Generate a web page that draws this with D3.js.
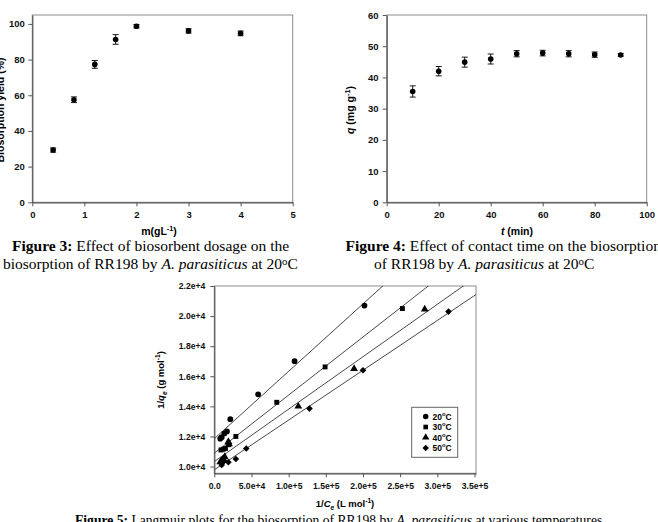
<!DOCTYPE html>
<html>
<head>
<meta charset="utf-8">
<script src="https://cdn.jsdelivr.net/npm/d3@7"></script>
<style>
  body { margin: 0; background: #fff; }
  svg { display: block; font-family: "Liberation Sans", Arial, sans-serif; }
  .cap { font-family: "Liberation Serif", "Times New Roman", serif; font-size: 15.5px; fill: #000; }
</style>
</head>
<body>
<svg id="chart" width="658" height="522"></svg>
<script>
// Figure 3: biosorbent dosage
const dosage = [0.4, 0.8, 1.2, 1.6, 2, 3, 4];
const yieldPct = [29.3, 57.5, 77.3, 91.3, 98.7, 96.1, 94.7];
const yieldErr = [1.2, 1.6, 2.2, 2.7, 1.0, 1.2, 1.3];
const dosageTicks = [0, 1, 2, 3, 4, 5];
const yieldTicks = [0, 20, 40, 60, 80, 100];

// Figure 4: contact time
const contactTime = [10, 20, 30, 40, 50, 60, 70, 80, 90];
const qValues = [35.5, 42.0, 44.9, 45.9, 47.6, 47.8, 47.6, 47.3, 47.2];
const qErr = [1.8, 1.5, 1.6, 1.6, 1.0, 0.9, 1.0, 0.85, 0.45];
const timeTicks = [0, 20, 40, 60, 80, 100];
const qTicks = [0, 10, 20, 30, 40, 50, 60];

// Figure 5: Langmuir plots
const tempLabels = ["20", "30", "40", "50"];
const invCe20 = [8000, 10000, 13500, 17000, 21500, 59000, 108000, 202000];
const invQe20 = [11850, 11950, 12200, 12330, 13150, 14800, 17000, 20700];
const invCe30 = [9000, 12000, 15000, 19500, 29000, 84000, 149000, 253000];
const invQe30 = [11100, 11150, 11200, 11450, 12000, 14270, 16620, 20500];
const invCe40 = [8000, 11000, 14000, 18900, 19800, 113000, 188000, 283000];
const invQe40 = [10300, 10450, 10650, 11650, 11500, 14000, 16500, 20450];
const invCe50 = [10000, 12000, 13500, 18900, 29000, 43000, 128000, 200000, 315000];
const invQe50 = [10100, 10550, 10380, 10290, 10500, 11200, 13850, 16400, 20300];
const fitIntercept = [11850, 10890, 10330, 9780];
const fitSlope = [0.0448, 0.0386, 0.03485, 0.0331];
const invCeTicks = [0, 50000, 100000, 150000, 200000, 250000, 300000, 350000];
const invQeTicks = [10000, 12000, 14000, 16000, 18000, 20000, 22000];

const svg = d3.select("#chart");
svg.append("rect").attr("width", 658).attr("height", 522).attr("fill", "#fff");

function frame(x, y) {
  const [x0, x1] = x.range(), [y0, y1] = y.range();
  svg.append("rect")
    .attr("x", x0).attr("y", y1)
    .attr("width", x1 - x0).attr("height", y0 - y1)
    .attr("fill", "none").attr("stroke", "#8c8c8c").attr("stroke-width", 1);
}

function axes(x, y, xTicks, yTicks, fmtX, fmtY, fs, padX, padY) {
  const gx = svg.append("g")
    .attr("transform", `translate(0,${y.range()[0]})`)
    .call(d3.axisBottom(x).tickValues(xTicks).tickFormat(fmtX)
      .tickSize(4).tickSizeOuter(0).tickPadding(padX));
  const gy = svg.append("g")
    .attr("transform", `translate(${x.range()[0]},0)`)
    .call(d3.axisLeft(y).tickValues(yTicks).tickFormat(fmtY)
      .tickSize(4).tickSizeOuter(0).tickPadding(padY));
  [gx, gy].forEach(g => {
    g.select(".domain").attr("stroke", "#555").attr("stroke-width", 1.2);
    g.selectAll(".tick line").attr("stroke", "#555");
    g.selectAll("text").attr("fill", "#111").style("font-size", fs + "px")
      .style("font-weight", "bold").style("font-family", "'Liberation Sans', Arial, sans-serif");
  });
}

function errorPoints(xs, ys, es, x, y) {
  const g = svg.append("g");
  xs.forEach((d, i) => {
    const cx = x(d), top = y(ys[i] + es[i]), bot = y(ys[i] - es[i]);
    g.append("line").attr("x1", cx).attr("x2", cx).attr("y1", top).attr("y2", bot)
      .attr("stroke", "#000").attr("stroke-width", 0.9);
    [top, bot].forEach(yy => g.append("line")
      .attr("x1", cx - 3).attr("x2", cx + 3).attr("y1", yy).attr("y2", yy)
      .attr("stroke", "#000").attr("stroke-width", 0.9));
    g.append("circle").attr("cx", cx).attr("cy", y(ys[i])).attr("r", 2.8).attr("fill", "#000");
  });
}

function supText(sel, parts) {
  // parts: [text, style] style: "sup" | "i" | "b" | "isub" | null
  let shift = 0;
  parts.forEach(([t, s]) => {
    const ts = sel.append("tspan").text(t);
    let target = 0;
    if (s === "sup") { target = -4; ts.style("font-size", "0.7em"); }
    if (s === "i") ts.style("font-style", "italic");
    if (s === "b") ts.style("font-weight", "bold");
    if (s === "isub") { target = 2.5; ts.style("font-size", "0.7em").style("font-style", "italic"); }
    if (target !== shift) { ts.attr("dy", target - shift); shift = target; }
  });
}

// ---------- Figure 3 ----------
const x3 = d3.scaleLinear().domain([0, 5]).range([32.3, 292.7]);
const y3 = d3.scaleLinear().domain([0, 105]).range([202.3, 15]);
frame(x3, y3);
axes(x3, y3, dosageTicks, yieldTicks, d3.format("d"), d3.format("d"), 9.5, 5.2, 3.5);
errorPoints(dosage, yieldPct, yieldErr, x3, y3);

supText(svg.append("text").attr("x", 159).attr("y", 235).attr("text-anchor", "middle")
  .style("font-size", "10.5px").style("font-weight", "bold"),
  [["m(gL", null], ["-1", "sup"], [")", null]]);
svg.append("text").attr("transform", "translate(4,110) rotate(-90)").attr("text-anchor", "middle")
  .style("font-size", "10.5px").style("font-weight", "bold").text("Biosorption yield (%)");

// ---------- Figure 4 ----------
const x4 = d3.scaleLinear().domain([0, 100]).range([386.7, 646.7]);
const y4 = d3.scaleLinear().domain([0, 60]).range([202.3, 15]);
frame(x4, y4);
axes(x4, y4, timeTicks, qTicks, d3.format("d"), d3.format("d"), 9.5, 5.2, 4.2);
errorPoints(contactTime, qValues, qErr, x4, y4);

supText(svg.append("text").attr("x", 517).attr("y", 235).attr("text-anchor", "middle")
  .style("font-size", "10.5px").style("font-weight", "bold"),
  [["t", "i"], [" (min)", null]]);
supText(svg.append("text").attr("transform", "translate(354,110) rotate(-90)").attr("text-anchor", "middle")
  .style("font-size", "10.5px").style("font-weight", "bold"),
  [["q", "i"], [" (mg g", null], ["-1", "sup"], [")", null]]);

// ---------- Captions ----------
function caption(x, y, parts, size) {
  const t = svg.append("text").attr("class", "cap").attr("x", x).attr("y", y);
  if (size) t.style("font-size", size + "px");
  supText(t, parts);
}
caption(12, 251, [["Figure 3:", "b"], [" Effect of biosorbent dosage on the", null]]);
caption(3, 269, [["biosorption of RR198 by ", null], ["A. parasiticus", "i"], [" at 20", null], ["o", "sup"], ["C", null]]);
caption(345.5, 251, [["Figure 4:", "b"], [" Effect of contact time on the biosorption", null]]);
caption(374, 269, [["of RR198 by ", null], ["A. parasiticus", "i"], [" at 20", null], ["o", "sup"], ["C", null]]);
caption(75, 525, [["Figure 5:", "b"], [" Langmuir plots for the biosorption of RR198 by ", null], ["A. parasiticus", "i"], [" at various temperatures", null]], 13.6);

// ---------- Figure 5 ----------
const x5 = d3.scaleLinear().domain([0, 352000]).range([214.3, 476]);
const y5 = d3.scaleLinear().domain([9550, 22000]).range([473.3, 286]);
frame(x5, y5);
const fmt5 = d => d === 0 ? "0.0" : d3.format(".1e")(d);
axes(x5, y5, invCeTicks, invQeTicks, fmt5, fmt5, 8.6, 6, 5);

svg.append("clipPath").attr("id", "clip5").append("rect")
  .attr("x", 214.3).attr("y", 286).attr("width", 476 - 214.3).attr("height", 473.3 - 286);
const fitG = svg.append("g").attr("clip-path", "url(#clip5)");
const fitLine = d3.line().x(d => x5(d[0])).y(d => y5(d[1]));
fitIntercept.forEach((b, i) => {
  const xs = x5.domain();
  fitG.append("path")
    .attr("d", fitLine(xs.map(v => [v, b + fitSlope[i] * v])))
    .attr("fill", "none").attr("stroke", "#333").attr("stroke-width", 0.9);
});

const seriesX = [invCe20, invCe30, invCe40, invCe50];
const seriesY = [invQe20, invQe30, invQe40, invQe50];
const symbols = [
  { type: d3.symbolCircle, size: 26, rot: 0 },
  { type: d3.symbolSquare, size: 24, rot: 0 },
  { type: d3.symbolTriangle, size: 26, rot: 0 },
  { type: d3.symbolSquare, size: 22, rot: 45 }
];
seriesX.forEach((xs, s) => {
  const sym = d3.symbol().type(symbols[s].type).size(symbols[s].size);
  svg.append("g").selectAll("path").data(xs).enter().append("path")
    .attr("d", sym)
    .attr("transform", (d, i) => `translate(${x5(d)},${y5(seriesY[s][i])}) rotate(${symbols[s].rot})`)
    .attr("fill", "#000");
});

// legend
const leg = svg.append("g");
leg.append("rect").attr("x", 411.7).attr("y", 407.3).attr("width", 46).attr("height", 50)
  .attr("fill", "#fff").attr("stroke", "#666").attr("stroke-width", 1);
tempLabels.forEach((t, s) => {
  const yy = 416.5 + s * 10.5;
  const sym = d3.symbol().type(symbols[s].type).size(symbols[s].size * 0.9);
  leg.append("path").attr("d", sym)
    .attr("transform", `translate(425.7,${yy}) rotate(${symbols[s].rot})`).attr("fill", "#000");
  supText(leg.append("text").attr("x", 432.5).attr("y", yy + 3)
    .style("font-size", "8.5px").style("font-weight", "bold"),
    [[t, null], ["o", "sup"], ["C", null]]);
});

supText(svg.append("text").attr("x", 345).attr("y", 507).attr("text-anchor", "middle")
  .style("font-size", "9.5px").style("font-weight", "bold"),
  [["1/", null], ["C", "i"], ["e", "isub"], [" (L mol", null], ["-1", "sup"], [")", null]]);
supText(svg.append("text").attr("transform", "translate(164,380) rotate(-90)").attr("text-anchor", "middle")
  .style("font-size", "9.5px").style("font-weight", "bold"),
  [["1/", null], ["q", "i"], ["e", "isub"], [" (g mol", null], ["-1", "sup"], [")", null]]);
</script>
</body>
</html>
